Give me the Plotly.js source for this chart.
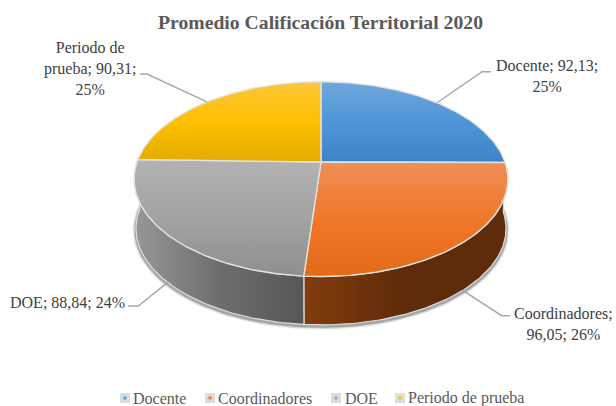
<!DOCTYPE html>
<html>
<head>
<meta charset="utf-8">
<script src="https://cdn.plot.ly/plotly-3.0.1.min.js"></script>
<style>html,body{margin:0;padding:0;background:#fff}#chart{width:616px;height:406px}</style>
</head>
<body>
<div id="chart"></div>
<script>
// Chart data
const categories = ['Docente', 'Coordinadores', 'DOE', 'Periodo de prueba'];
const values = [92.13, 96.05, 88.84, 90.31];
const chartTitle = 'Promedio Calificación Territorial 2020';

// Slice colours
const topStops = [
  ['#3f83c4', '#4f95d8', '#6fa6db'],
  ['#e36a16', '#f0772a', '#ef8e58'],
  ['#8f8f8f', '#a3a3a3', '#b2b2b2'],
  ['#e3ac00', '#ffc000', '#fcc63c']
];
const wallStops = [null, ['#833c0c', '#5e2b0b', '#5e2b0b'], ['#979797', '#6e6e6e', '#565656'], null];
const swatchColors = ['#5b9bd5', '#ed7d31', '#a5a5a5', '#ffc000'];

// Tilted-disc projection of the pie
const W = 616, H = 406;
const apex = {x: 321, y: 162};
const radiusX = 184, radiusY = 94.4, tilt = 0.1756;
const depth = 49.5, baseScale = 0.99;

const total = values.reduce((a, b) => a + b, 0);
const rad = d => d * Math.PI / 180;

// Angle is clockwise from twelve o'clock; returns plot coordinates (y grows upward).
function project(deg, base) {
  const u = Math.sin(rad(deg)), v = Math.cos(rad(deg));
  const w = 1 + tilt * v;
  const s = base ? baseScale : 1;
  return {
    x: apex.x + s * radiusX * u / w,
    y: H - (apex.y - s * radiusY * v / w + (base ? depth : 0))
  };
}
function arc(a0, a1, base) {
  const pts = [], n = Math.max(2, Math.ceil(Math.abs(a1 - a0)));
  for (let i = 0; i <= n; i++) pts.push(project(a0 + (a1 - a0) * i / n, base));
  return pts;
}
function scale3(c) {
  return [[0, c[0]], [0.5, c[1]], [1, c[2]]];
}

const traces = [];
let acc = 0;
const spans = values.map(v => {
  const s = [acc, acc + v / total * 360];
  acc = s[1];
  return s;
});
const mids = spans.map(s => (s[0] + s[1]) / 2);

// Soft shadow under the rim
const rim = arc(82, 278, true);
[[7, 'rgba(70,70,70,0.10)'], [5, 'rgba(70,70,70,0.16)'], [3, 'rgba(60,60,60,0.30)']].forEach(([w, col]) => {
  traces.push({
    type: 'scatter', mode: 'lines', hoverinfo: 'skip', showlegend: false,
    x: rim.map(p => p.x), y: rim.map(p => p.y - 1.5),
    line: {color: col, width: w}
  });
});

// Side walls of the front slices
spans.forEach((s, i) => {
  if (!wallStops[i]) return;
  const top = arc(s[0], s[1], false), bottom = arc(s[1], s[0], true);
  const pts = top.concat(bottom, [top[0]]);
  traces.push({
    type: 'scatter', mode: 'lines', fill: 'toself', hoverinfo: 'skip', showlegend: false,
    x: pts.map(p => p.x), y: pts.map(p => p.y),
    line: {color: '#dcdcdc', width: 1.2},
    fillgradient: {type: 'horizontal', colorscale: scale3(wallStops[i])}
  });
});

// Top faces
spans.forEach((s, i) => {
  const a = arc(s[0], s[1], false);
  const centre = {x: apex.x, y: H - apex.y};
  const pts = [centre].concat(a, [centre]);
  traces.push({
    type: 'scatter', mode: 'lines', fill: 'toself', name: categories[i],
    x: pts.map(p => p.x), y: pts.map(p => p.y),
    line: {color: '#e2e2e2', width: 1.4},
    fillgradient: {type: 'vertical', colorscale: scale3(topStops[i])},
    hoverinfo: 'skip', showlegend: false
  });
});

// Leader lines: anchored on each slice's mid-angle
const leaderEnds = [
  [[482, 71.7], [491, 71.7]],
  [[501.7, 315.7], [510, 315.7]],
  [[138.3, 306], [128, 306]],
  [[147, 74], [140, 74]]
];
const onFront = [false, true, true, false];
mids.forEach((m, i) => {
  const p = project(m, onFront[i]);
  const xs = [p.x], ys = [p.y];
  leaderEnds[i].forEach(e => { xs.push(e[0]); ys.push(H - e[1]); });
  traces.push({
    type: 'scatter', mode: 'lines', hoverinfo: 'skip', showlegend: false,
    x: xs, y: ys, line: {color: '#a6a6a6', width: 1.4}
  });
});

// Data labels
const fmt = v => v.toFixed(2).replace('.', ',');
const pct = v => Math.round(v / total * 100) + '%';
const labelText = [
  `${categories[0]}; ${fmt(values[0])};<br>${pct(values[0])}`,
  `${categories[1]};<br>${fmt(values[1])}; ${pct(values[1])}`,
  `${categories[2]}; ${fmt(values[2])}; ${pct(values[2])}`,
  `Periodo de<br>prueba; ${fmt(values[3])};<br>${pct(values[3])}`
];
const labelPos = [[546.5, 76], [563, 323.5], [67, 302], [90, 68.5]];
const serif = '"Liberation Serif", "Times New Roman", serif';
const annotations = labelText.map((t, i) => ({
  text: t, x: labelPos[i][0], y: H - labelPos[i][1], xref: 'x', yref: 'y',
  showarrow: false, align: 'center', xanchor: 'center', yanchor: 'middle',
  font: {family: serif, size: 16, color: '#404040'}
}));

// Legend row
const legendBoxX = [125, 210, 336, 400];
const legendTextX = [131, 216, 343, 406];
const legendY = 398;
traces.push({
  type: 'scatter', mode: 'markers', hoverinfo: 'skip', showlegend: false,
  x: legendBoxX, y: legendBoxX.map(() => H - legendY),
  marker: {symbol: 'square', size: 10, color: '#dcdcdc'}
});
traces.push({
  type: 'scatter', mode: 'markers', hoverinfo: 'skip', showlegend: false,
  x: legendBoxX, y: legendBoxX.map(() => H - legendY),
  marker: {symbol: 'square', size: 3, color: swatchColors}
});
categories.forEach((c, i) => annotations.push({
  text: c, x: legendTextX[i], y: H - legendY, xref: 'x', yref: 'y',
  showarrow: false, xanchor: 'left', yanchor: 'middle',
  font: {family: serif, size: 16, color: '#595959'}
}));

const layout = {
  width: W, height: H,
  margin: {l: 0, r: 0, t: 0, b: 0},
  paper_bgcolor: '#ffffff', plot_bgcolor: '#ffffff',
  showlegend: false,
  title: {
    text: '<b>' + chartTitle + '</b>',
    x: 320.5 / W, xanchor: 'center', y: 1 - 22 / H, yanchor: 'middle',
    font: {family: serif, size: 19.7, color: '#595959'}
  },
  xaxis: {range: [0, W], visible: false, fixedrange: true},
  yaxis: {range: [0, H], visible: false, fixedrange: true},
  annotations: annotations
};

Plotly.newPlot('chart', traces, layout, {displayModeBar: false, staticPlot: true});
</script>
</body>
</html>
